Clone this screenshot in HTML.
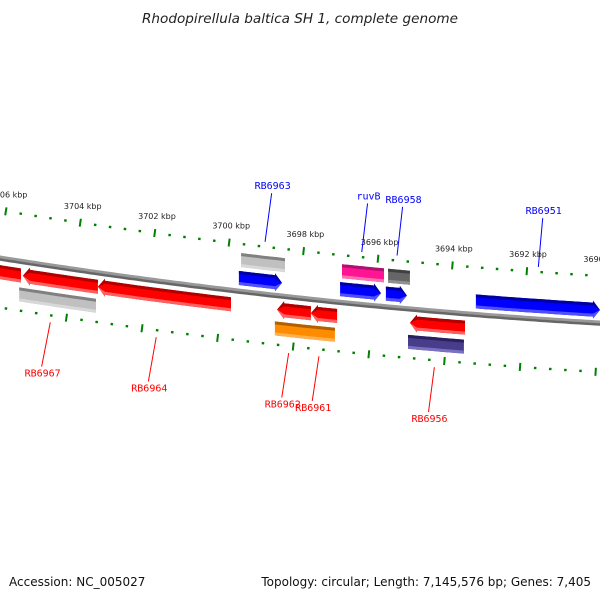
<!DOCTYPE html>
<html><head><meta charset="utf-8"><style>
html,body{margin:0;padding:0;background:#fff;}
svg{display:block;font-family:"DejaVu Sans","Liberation Sans",sans-serif;}
</style></head><body>
<svg id="map" width="600" height="600" viewBox="0 0 600 600" xmlns="http://www.w3.org/2000/svg">
<rect width="600" height="600" fill="#fff"/>
<text x="300" y="23" text-anchor="middle" font-size="13.6" font-style="italic" fill="#222">Rhodopirellula baltica SH 1, complete genome</text>
<g id="ticks"></g>
<g id="backbone"></g>
<g id="genes"></g>
<g id="labels"></g>
<text x="9" y="586" font-size="12" fill="#111">Accession: NC_005027</text>
<text x="591" y="586" font-size="12" text-anchor="end" fill="#111">Topology: circular; Length: 7,145,576 bp; Genes: 7,405</text>
</svg>
<script>
// gene data: start/end in kbp, track, color, direction
const geneStart = [3706.3, 3705.35, 3703.35, 3705.45, 3699.59, 3699.53, 3698.57, 3698.63, 3697.67, 3696.84, 3696.89, 3695.61, 3695.67, 3695.03, 3695.08, 3693.27];
const geneEnd   = [3705.40, 3703.35, 3699.80, 3703.40, 3698.44, 3698.36, 3697.67, 3697.03, 3696.97, 3695.72, 3695.80, 3695.03, 3695.11, 3693.56, 3693.59, 3689.96];
const geneTrack = [1, 1, 1, 2, -1, -2, 1, 2, 1, -2, -1, -2, -1, 1, 2, -1];
const geneColor = ["red","red","red","gray","blue","gray","red","orange","red","pink","blue","dgray","blue","red","purple","blue"];
const geneDir   = [-1,-1,-1,0,1,0,-1,0,-1,0,1,0,1,-1,0,1];
const labelNames = ["RB6963","ruvB","RB6958","RB6951","RB6967","RB6964","RB6962","RB6961","RB6956"];
const labelKbp   = [3699.05, 3696.45, 3695.5, 3691.7, 3704.4, 3701.6, 3698.1, 3697.3, 3694.25];
const labelSide  = [-1,-1,-1,-1,1,1,1,1,1];
const tickMajorKbp = [3706, 3704, 3702, 3700, 3698, 3696, 3694, 3692, 3690];

const NS="http://www.w3.org/2000/svg";
const pxPerKbp = 37.5, refKbp = 3704, refX = 73.5;
function kx(k){ return refX + (refKbp - k) * pxPerKbp; }
const A=0.1583, B=-8.33e-5;
function cy(x){ return 258 + A*x + B*x*x; }
function pt(x, off){ const s=A+2*B*x, L=Math.sqrt(1+s*s); return [x - s*off/L, cy(x) + off/L]; }
function gpt(x, off){ const s=A+2*B*x, L=Math.sqrt(1+s*s); return pt(x + s*off/L, off); }
function el(tag, attrs, parent){ const e=document.createElementNS(NS,tag); for(const k in attrs) e.setAttribute(k, attrs[k]); parent.appendChild(e); return e; }
const pal = {red:["#b00000","#ff0000","#ff6060"], gray:["#808080","#c0c0c0","#d8d8d8"], orange:["#b06000","#ff8c00","#ffb050"], blue:["#0000a0","#0000ff","#5050ff"], pink:["#b01070","#ff1493","#ff70b0"], dgray:["#404040","#666666","#909090"], purple:["#2a2060","#483d8b","#7a70c0"]};

// backbone
const bb=document.getElementById('backbone');
function curvePath(off, x0, x1){ let d=""; for(let x=x0;x<=x1;x+=5){ const p=pt(x,off); d+=(d?"L":"M")+p[0].toFixed(1)+","+p[1].toFixed(1);} return d; }
let p1=el('path',{d:curvePath(-1,-10,610),stroke:"#999",'stroke-width':3,fill:"none"},bb);


let p2=el('path',{d:curvePath(1.5,-10,610),stroke:"#666",'stroke-width':2.5,fill:"none"},bb);



// ticks
const tg=document.getElementById('ticks');
const kMin=3689.6, kMax=3706.6;
for(let i=Math.round(kMin*5); i<=Math.round(kMax*5); i++){
  if(i%2) continue;
  const k=i/5;
  const x=kx(k); const major=(i%10===0);
  [-47,49].forEach(off=>{
    const h=major?4:1.2;
    const a=pt(x,off-h), b=pt(x,off+h);
    const t=el('line',{x1:a[0],y1:a[1],x2:b[0],y2:b[1],stroke:"#008000",'stroke-width':major?2:2.5},tg);
    
    
  });
}
tickMajorKbp.forEach(k=>{
  const x=kx(k); const p=pt(x,-64);
  const t=el('text',{x:p[0],y:p[1]+3,'font-size':8,'text-anchor':'middle',fill:"#222"},tg);
  t.textContent=k+" kbp";
  
  
});

// genes
const gg=document.getElementById('genes');
const trackOff={1:14,2:33,"-1":-13,"-2":-31};
function band(x0,x1,o0,o1,dir,tipAll,off){
  const pts=[]; const tip=7;
  const a=dir===1?x1-tip:x1, b=dir===-1?x0+tip:x0;
  const st=(a-b)/12||1;
  for(let x=b;x<=a+0.01;x+=st) pts.push(gpt(x,off).map((v,j)=>j?v+(o0-off):v));
  if(dir===1){ pts.push([gpt(a,off)[0],gpt(a,off)[1]+tipAll[0]-off]); pts.push(gpt(x1,off)); pts.push([gpt(a,off)[0],gpt(a,off)[1]+tipAll[2]-off]); }
  for(let x=a;x>=b-0.01;x-=st) pts.push(gpt(x,off).map((v,j)=>j?v+(o1-off):v));
  if(dir===-1){ pts.push([gpt(b,off)[0],gpt(b,off)[1]+tipAll[2]-off]); pts.push(gpt(x0,off)); pts.push([gpt(b,off)[0],gpt(b,off)[1]+tipAll[0]-off]); }
  return pts.map(p=>p[0].toFixed(1)+","+p[1].toFixed(1)).join(" ");
}
for(let i=0;i<geneStart.length;i++){
  const x0=kx(geneStart[i]), x1=kx(geneEnd[i]);
  const off=trackOff[geneTrack[i]], h=7, dir=geneDir[i], c=pal[geneColor[i]];
  const g=el('g',{},gg);
  
  
  el('polygon',{points:band(x0,x1,off-h,off+h,dir,[off-h-2,off,off+h+2],off),fill:c[1]},g);
  el('polygon',{points:band(x0,x1,off-h,off-h+3,dir,[off-h-2,off,off-h+3],off),fill:c[0]},g);
  el('polygon',{points:band(x0,x1,off+h-3,off+h,dir,[off+h-3,off,off+h+2],off),fill:c[2]},g);
}

// labels
const lg=document.getElementById('labels');
for(let i=0;i<labelNames.length;i++){
  const x=kx(labelKbp[i]); const side=labelSide[i];
  const col=side<0?"#0000ff":"#ff0000";
  const a=side<0?pt(x,-52):pt(x,56);
  const b=side<0?pt(x+1,-101):pt(x-2,101);
  const l=el('line',{x1:a[0],y1:a[1],x2:b[0],y2:b[1],stroke:col,'stroke-width':1},lg);
  
  
  const t=el('text',{x:b[0]+1,y:side<0?b[1]-4:b[1]+10,'font-size':10,'text-anchor':'middle',fill:col,'font-family':'"DejaVu Sans Mono","Liberation Mono",monospace'},lg);
  t.textContent=labelNames[i];
  
  
}
</script>
</body></html>
